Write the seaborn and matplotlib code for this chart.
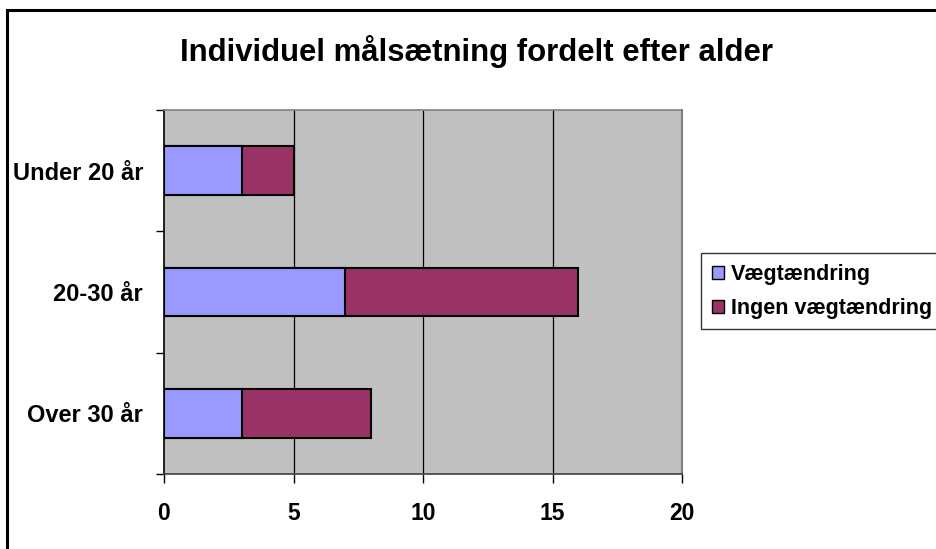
import matplotlib
matplotlib.use("Agg")
import matplotlib.pyplot as plt
import matplotlib.patches as mpatches
from matplotlib.ticker import FixedLocator
import seaborn as sns
import pandas as pd

categories = ["Under 20 år", "20-30 år", "Over 30 år"]
vaegt = [3, 7, 3]
ingen = [2, 9, 5]
series_names = ["Vægtændring", "Ingen vægtændring"]
x_ticks = [0, 5, 10, 15, 20]
title = "Individuel målsætning fordelt efter alder"

c_blue = "#9999FF"
c_plum = "#993366"
c_plot = "#C0C0C0"

sns.set_theme(style="white")
plt.rcParams["font.family"] = ["Liberation Sans", "DejaVu Sans"]
plt.rcParams["font.weight"] = "bold"
plt.rcParams["text.color"] = "black"
plt.rcParams["xtick.color"] = "black"
plt.rcParams["ytick.color"] = "black"

df = pd.DataFrame({
    "alder": categories,
    "vaegt": vaegt,
    "total": [a + b for a, b in zip(vaegt, ingen)],
})

fig = plt.figure(figsize=(9.36, 5.49), dpi=100)
fig.patch.set_facecolor("white")
ax = fig.add_axes([164 / 936, 1 - 474 / 549, (682 - 164) / 936, (474 - 110) / 549])
ax.set_facecolor(c_plot)

# stacked bars: full total in plum, first series overlaid in blue
sns.barplot(data=df, y="alder", x="total", orient="h", color=c_plum,
            saturation=1, width=0.40, edgecolor="black", linewidth=1.5, ax=ax, zorder=3)
sns.barplot(data=df, y="alder", x="vaegt", orient="h", color=c_blue,
            saturation=1, width=0.40, edgecolor="black", linewidth=1.5, ax=ax, zorder=4)

ax.set_xlim(0, 20)
ax.set_ylim(2.5, -0.5)
ax.set_xlabel("")
ax.set_ylabel("")

ax.set_xticks(x_ticks)
ax.set_xticklabels([str(t) for t in x_ticks], fontsize=16.5, fontweight="bold", color="black")
ax.tick_params(axis="x", direction="out", length=6.5, width=1, color="black", pad=14, bottom=True)

ax.set_yticks(range(len(categories)))
ax.set_yticklabels(categories, fontsize=17, fontweight="bold", color="black")
ax.tick_params(axis="y", which="major", length=0, pad=15)
ax.yaxis.set_minor_locator(FixedLocator([-0.5, 0.5, 1.5, 2.5]))
ax.tick_params(axis="y", which="minor", direction="out", length=5.5, width=1, color="black", left=True)

ax.grid(False)
for xv in x_ticks[1:-1]:
    ax.axvline(xv, color="black", linewidth=0.9, zorder=1)

ax.spines["left"].set_color("black")
ax.spines["left"].set_linewidth(1.2)
ax.spines["bottom"].set_color("#404040")
ax.spines["bottom"].set_linewidth(1.2)
ax.spines["top"].set_color("#808080")
ax.spines["top"].set_linewidth(1.2)
ax.spines["right"].set_color("#808080")
ax.spines["right"].set_linewidth(1.5)
for s in ax.spines.values():
    s.set_visible(True)
    s.set_zorder(5)

fig.text(477 / 936, 1 - 52 / 549, title, ha="center", va="center",
         fontsize=22.4, fontweight="bold", color="black")

handles = [
    mpatches.Patch(facecolor=c_blue, edgecolor="black", linewidth=1.0, label=series_names[0]),
    mpatches.Patch(facecolor=c_plum, edgecolor="black", linewidth=1.0, label=series_names[1]),
]
# legend frame runs past the right edge of the chart area
leg = fig.legend(handles=handles, loc="upper left", mode="expand",
                 bbox_to_anchor=(701 / 936, 1 - 253 / 549 - 0.2, 0.26, 0.2),
                 frameon=True, fancybox=False, shadow=False,
                 prop={"size": 15.5, "weight": "bold"},
                 handlelength=0.55, handleheight=0.55, handletextpad=0.35,
                 labelspacing=0.6, borderpad=0.5, borderaxespad=0)
leg.get_frame().set_edgecolor("black")
leg.get_frame().set_linewidth(1.0)
for t in leg.get_texts():
    t.set_color("black")

# outer chart-area border
fig.patches.append(mpatches.Rectangle((7 / 936, -0.05), 1.2, 1 - 10 / 549 + 0.05,
                                      transform=fig.transFigure, fill=False,
                                      edgecolor="black", linewidth=2.2, zorder=10))

fig.savefig("out.png", dpi=100)
